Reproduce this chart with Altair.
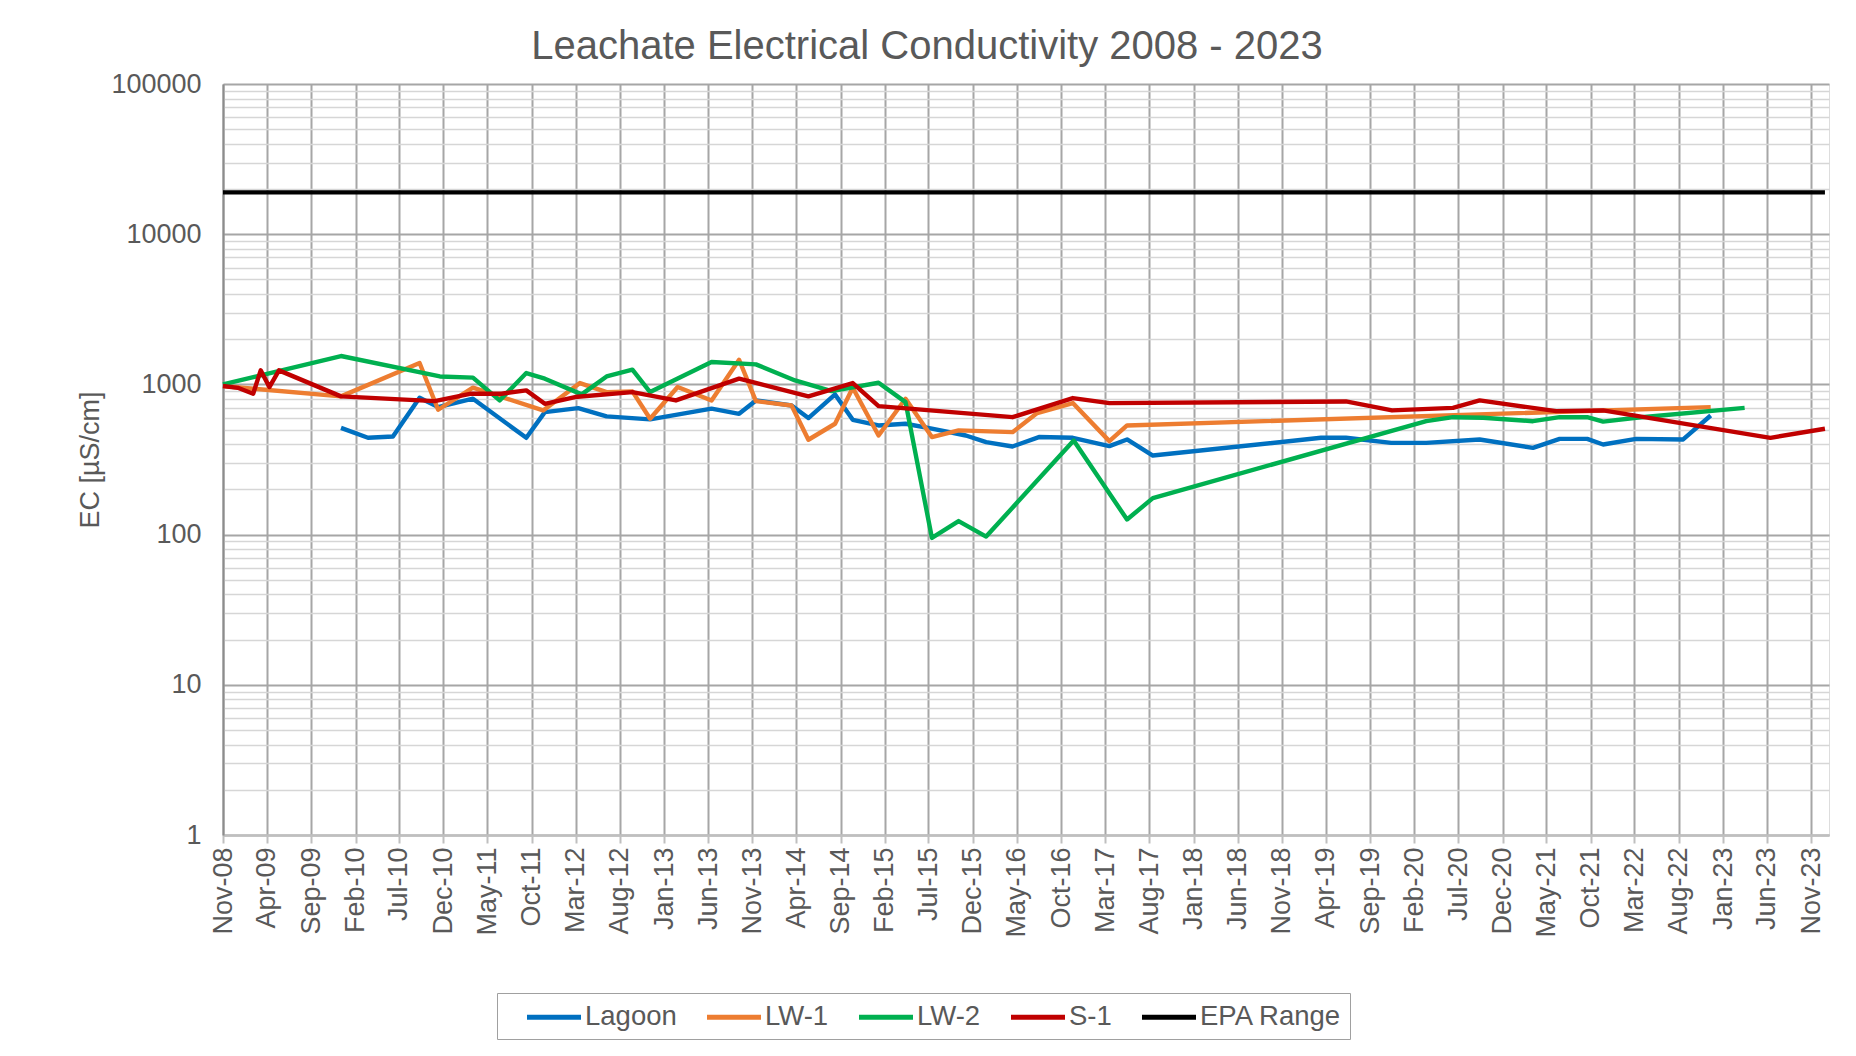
import altair as alt
import pandas as pd

# ---------------- data ----------------
lagoon_dates = ["2009-12-13", "2010-03-16", "2010-06-10", "2010-09-10", "2010-11-13", "2011-03-13",
                "2011-09-13", "2011-11-16", "2012-03-10", "2012-06-16", "2012-11-13", "2013-06-13",
                "2013-09-16", "2013-11-13", "2014-03-16", "2014-05-13", "2014-08-13", "2014-10-13",
                "2015-01-10", "2015-04-13", "2015-07-13", "2015-11-07", "2016-01-16", "2016-04-16",
                "2016-07-16", "2016-11-10", "2017-03-16", "2017-05-16", "2017-08-13", "2019-03-16",
                "2019-06-10", "2019-11-13", "2020-03-13", "2020-09-13", "2021-03-16", "2021-06-16",
                "2021-09-19", "2021-11-13", "2022-03-07", "2022-08-16", "2022-11-19"]
lagoon_values = [514, 441, 450, 815, 706, 803, 441, 654, 695, 612, 585, 689, 637, 782, 724, 597, 858,
                 581, 533, 547, 507, 457, 413, 386, 446, 441, 388, 430, 336, 441, 441, 408, 408, 430,
                 378, 434, 434, 398, 434, 430, 621]

lw1_dates = ["2008-11-01", "2009-12-13", "2010-09-10", "2010-11-13", "2011-03-13", "2011-11-10",
             "2012-03-16", "2012-06-16", "2012-09-13", "2012-11-13", "2013-02-16", "2013-06-13",
             "2013-09-16", "2013-11-13", "2014-03-16", "2014-05-13", "2014-08-13", "2014-10-13",
             "2015-01-10", "2015-04-13", "2015-07-13", "2015-10-13", "2016-04-16", "2016-07-10",
             "2016-11-10", "2017-03-16", "2017-05-16", "2022-11-19"]
lw1_values = [975, 832, 1387, 678, 951, 671, 1021, 889, 898, 591, 960, 782, 1459, 774, 724, 428, 547,
              951, 457, 803, 446, 494, 481, 644, 751, 419, 533, 706]

lw2_dates = ["2008-11-01", "2009-12-13", "2010-11-19", "2011-03-13", "2011-06-13", "2011-09-13",
             "2011-11-16", "2012-03-22", "2012-06-16", "2012-09-13", "2012-11-13", "2013-06-13",
             "2013-11-13", "2014-03-28", "2014-08-01", "2015-01-10", "2015-04-13", "2015-07-13",
             "2015-10-13", "2016-01-16", "2016-11-13", "2017-05-16", "2017-08-13", "2020-03-13",
             "2020-06-13", "2020-09-25", "2021-03-16", "2021-06-16", "2021-09-19", "2021-11-13",
             "2022-03-07", "2023-03-16"]
lw2_values = [1000, 1545, 1130, 1109, 782, 1190, 1092, 858, 1130, 1253, 889, 1409, 1360, 1063, 902,
              1026, 762, 95, 123, 97, 423, 126, 175, 569, 605, 600, 569, 605, 605, 565, 600, 698]

s1_dates = ["2008-11-01", "2008-12-22", "2009-02-13", "2009-03-11", "2009-04-10", "2009-05-13",
            "2009-12-13", "2010-11-01", "2011-03-07", "2011-06-19", "2011-09-13", "2011-11-16",
            "2012-02-28", "2012-09-13", "2013-02-10", "2013-09-16", "2014-05-13", "2014-10-13",
            "2015-01-10", "2016-04-16", "2016-11-10", "2017-03-16", "2019-06-10", "2019-11-16",
            "2020-06-13", "2020-09-13", "2021-06-04", "2021-11-13", "2023-06-13", "2023-12-18"]
s1_values = [975, 949, 867, 1240, 960, 1240, 832, 774, 867, 867, 912, 743, 824, 889, 782, 1092, 832,
             1021, 717, 605, 811, 751, 770, 671, 698, 782, 664, 671, 441, 507]

epa_dates = ["2008-11-01", "2023-12-18"]
epa_values = [19000, 19000]

series_names = ["Lagoon", "LW-1", "LW-2", "S-1", "EPA Range"]
series_colors = ["#0070C0", "#ED7D31", "#00B050", "#C00000", "#000000"]

x_tick_dates = ["2008-11-01", "2009-04-01", "2009-09-01", "2010-02-01", "2010-07-01", "2010-12-01",
                "2011-05-01", "2011-10-01", "2012-03-01", "2012-08-01", "2013-01-01", "2013-06-01",
                "2013-11-01", "2014-04-01", "2014-09-01", "2015-02-01", "2015-07-01", "2015-12-01",
                "2016-05-01", "2016-10-01", "2017-03-01", "2017-08-01", "2018-01-01", "2018-06-01",
                "2018-11-01", "2019-04-01", "2019-09-01", "2020-02-01", "2020-07-01", "2020-12-01",
                "2021-05-01", "2021-10-01", "2022-03-01", "2022-08-01", "2023-01-01", "2023-06-01",
                "2023-11-01"]
x_domain = ["2008-11-01", "2024-01-01"]
y_major_ticks = [1, 10, 100, 1000, 10000, 100000]
y_minor_steps = [2, 3, 4, 5, 6, 7, 8, 9]

# ---------------- build table ----------------
rows = []
for name, dates, vals in zip(series_names,
                             [lagoon_dates, lw1_dates, lw2_dates, s1_dates, epa_dates],
                             [lagoon_values, lw1_values, lw2_values, s1_values, epa_values]):
    for d, v in zip(dates, vals):
        rows.append({"Series": name, "Date": d, "EC": v})
df = pd.DataFrame(rows)
df["Date"] = pd.to_datetime(df["Date"])


def dt(s):
    y, m, d = (int(p) for p in s.split("-"))
    return alt.DateTime(year=y, month=m, date=d)


y_all_ticks = sorted(set(y_major_ticks + [s * t for t in y_major_ticks[:-1] for s in y_minor_steps]))
major_list = "[" + ",".join(str(v) for v in y_major_ticks) + "]"
is_major = f"indexof({major_list}, datum.value) >= 0"

FONT = "Liberation Sans"
TXT = "#595959"

x_axis = alt.Axis(
    values=[dt(s) for s in x_tick_dates], format="%b-%y", labelAngle=270,
    labelFont=FONT, labelFontSize=27, labelColor=TXT, labelPadding=4,
    labelOverlap=False, labelFlush=False, labelBound=False,
    grid=True, gridColor="#A6A6A6", gridWidth=2,
    ticks=True, tickSize=8, tickColor="#BFBFBF", tickWidth=2,
    domainColor="#BFBFBF", domainWidth=2.5, title=None,
)

y_axis = alt.Axis(
    values=y_all_ticks, format="d",
    labelExpr=f"{is_major} ? datum.label : ''",
    labelFont=FONT, labelFontSize=27, labelColor=TXT, labelPadding=22, labelOverlap=False,
    ticks=False, grid=True,
    gridColor={"condition": {"test": is_major, "value": "#A6A6A6"}, "value": "#D6D6D6"},
    gridWidth={"condition": {"test": is_major, "value": 2}, "value": 1.6},
    domainColor="#8C8C8C", domainWidth=2,
    title="EC [µS/cm]", titleFont=FONT, titleFontSize=27, titleColor=TXT,
    titleFontWeight="normal", titlePadding=6,
)

legend = alt.Legend(
    title=None, orient="none", legendX=274, legendY=909, direction="horizontal", columns=5,
    symbolType="M-2,0H2", symbolStrokeWidth=5, symbolSize=729, symbolOffset=33,
    labelFont=FONT, labelFontSize=27.5, labelColor=TXT, labelOffset=15, labelLimit=400,
    labelExpr="datum.label == 'EPA Range' ? datum.label + '\u2002' : datum.label",
    columnPadding=8, padding=8, strokeColor="#A0A0A0", fillColor="white",
)

chart = alt.Chart(df).mark_line(strokeWidth=4.4, strokeJoin="round").encode(
    x=alt.X("Date:T", scale=alt.Scale(domain=[dt(s) for s in x_domain], nice=False), axis=x_axis),
    y=alt.Y("EC:Q", scale=alt.Scale(type="log", domain=[1, 100000], nice=False), axis=y_axis),
    color=alt.Color("Series:N", scale=alt.Scale(domain=series_names, range=series_colors),
                    legend=legend),
).properties(
    width=1606, height=751,
    padding={"left": 215, "top": 76, "right": 10, "bottom": 208},
    autosize=alt.AutoSizeParams(type="none"),
    title=alt.TitleParams(
        text="Leachate Electrical Conductivity 2008 - 2023", font=FONT, fontSize=40,
        fontWeight="normal", color=TXT, anchor="middle", dx=-99, offset=3,
    ),
).configure_view(stroke="#8C8C8C", strokeWidth=2).configure(background="white")

chart.save("out.html", embed_options={"renderer": "svg", "actions": False})
